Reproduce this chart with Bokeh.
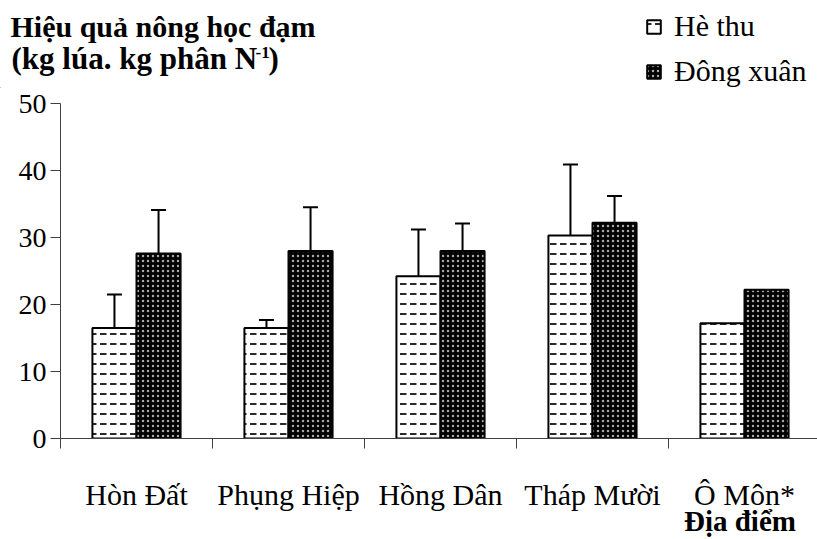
from bokeh.plotting import figure
from bokeh.layouts import column
from bokeh.models import (Range1d, FixedTicker, Label, Legend, LegendItem,
                          Whisker, TeeHead, ColumnDataSource, LinearAxis)
from bokeh.embed import file_html
from bokeh.resources import INLINE

# ---- data ----
sites = ["Hòn Đất", "Phụng Hiệp", "Hồng Dân", "Tháp Mười", "Ô Môn*"]
he_thu = [16.5, 16.5, 24.2, 30.3, 17.2]
he_thu_err = [5.0, 1.2, 7.0, 10.6, 0.0]
dong_xuan = [27.6, 28.0, 28.0, 32.2, 22.2]
dong_xuan_err = [6.5, 6.5, 4.1, 4.0, 0.0]
y_ticks = [0, 10, 20, 30, 40, 50]
series_names = ["Hè thu", "Đông xuân"]
title_line1 = "Hiệu quả nông học đạm"
title_line2 = "(kg lúa. kg phân N"
title_sup = "-1"
title_close = ")"
x_title = "Địa điểm"

FONT = "Liberation Serif"
W, HTOP, H = 817, 88, 539
HMAIN = H - HTOP
BL, BR, BT, BB = 60, 0, 103 - HTOP, 96
cat_px = 152.0
frame_w = W - BL - BR
ymax = 50.0

HT_STYLE = dict(fill_color="white", line_color="black", line_width=2,
                hatch_pattern="horizontal_dash", hatch_color="#2a2a2a",
                hatch_scale=10, hatch_weight=2)
DX_STYLE = dict(fill_color="black", line_color="black", line_width=2,
                hatch_pattern="dot", hatch_color="#a8a8a8",
                hatch_scale=5, hatch_weight=1.0)

# ---------------- header figure (title + legend) ----------------
top = figure(width=W, height=HTOP, x_range=Range1d(0, W), y_range=Range1d(0, HTOP),
             output_backend="svg", toolbar_location=None,
             x_axis_type=None, y_axis_type=None,
             min_border_left=0, min_border_right=0, min_border_top=0,
             min_border_bottom=0)
top.outline_line_color = None
top.grid.grid_line_color = None

def hdr(px, baseline, text, fs):
    # place text by its baseline, using a middle anchor
    return Label(x=px, y=HTOP - (baseline - 0.3375 * fs), text=text,
                 text_font=FONT, text_font_style="bold", text_color="black",
                 text_font_size=f"{fs}px", text_baseline="middle")

top.add_layout(hdr(10, 36, title_line1, 30))
top.add_layout(hdr(11, 68, title_line2, 31))
top.add_layout(hdr(255, 58, title_sup, 17))
top.add_layout(hdr(268, 68, title_close, 31))

# legend proxies: zero-height bars kept outside the visible range
d1 = top.vbar(x=[-W], top=[0], width=1, **HT_STYLE)
d2 = top.vbar(x=[-W], top=[0], width=1, **DX_STYLE)
legend = Legend(items=[LegendItem(label=series_names[0], renderers=[d1]),
                       LegendItem(label=series_names[1], renderers=[d2])],
                location=(645, 0), glyph_width=17, glyph_height=17,
                label_text_font=FONT, label_text_font_size="30px",
                label_text_color="black", label_standoff=12,
                label_height=33, spacing=11, padding=0, margin=0,
                background_fill_alpha=0, border_line_color=None)
top.add_layout(legend)

# ---------------- main chart ----------------
p = figure(width=W, height=HMAIN, x_range=Range1d(0, frame_w / cat_px),
           y_range=Range1d(0, ymax), output_backend="svg",
           toolbar_location=None, min_border_left=BL, min_border_right=BR,
           min_border_top=BT, min_border_bottom=BB)
p.outline_line_color = None
p.grid.grid_line_color = None

for fig in (top, p):
    try:
        fig.frame_align = False
    except Exception:
        pass

n = len(sites)
bw = 0.29
x_ht = [i + 0.5 - bw / 2 for i in range(n)]
x_dx = [i + 0.5 + bw / 2 for i in range(n)]

r1 = p.vbar(x=x_ht, top=he_thu, width=bw, **HT_STYLE)
r2 = p.vbar(x=x_dx, top=dong_xuan, width=bw, **DX_STYLE)

def err_source(xs, vals, errs):
    d = dict(x=[], up=[], lo=[])
    for x, v, e in zip(xs, vals, errs):
        if e > 0:
            d["x"].append(x)
            d["up"].append(v + e)
            d["lo"].append(v - e)
    return ColumnDataSource(d)

for xs, vals, errs in ((x_ht, he_thu, he_thu_err), (x_dx, dong_xuan, dong_xuan_err)):
    src = err_source(xs, vals, errs)
    w = Whisker(base="x", upper="up", lower="lo", source=src, dimension="height",
                line_color="black", line_width=2,
                upper_head=TeeHead(size=15, line_width=2, line_color="black"),
                lower_head=TeeHead(size=15, line_width=2, line_color="black"))
    p.add_layout(w)

yax = p.yaxis[0]
yax.ticker = FixedTicker(ticks=y_ticks)
yax.major_tick_out = 10
yax.major_tick_in = 0
yax.minor_tick_line_color = None
yax.axis_line_color = "#404040"
yax.major_tick_line_color = "#404040"
yax.major_label_text_font = FONT
yax.major_label_text_font_size = "28px"
yax.major_label_text_color = "black"
yax.major_label_standoff = 4

xax = p.xaxis[0]
xax.ticker = FixedTicker(ticks=[i + 0.5 for i in range(n)],
                         minor_ticks=list(range(n + 1)))
xax.major_label_overrides = {i + 0.5: s for i, s in enumerate(sites)}
xax.major_tick_line_color = None
xax.minor_tick_out = 10
xax.minor_tick_in = 0
xax.minor_tick_line_color = "#404040"
xax.axis_line_color = "#404040"
xax.major_label_text_font = FONT
xax.major_label_text_font_size = "30px"
xax.major_label_text_color = "black"
xax.major_label_standoff = 29

title_pos = 4.47
xax2 = LinearAxis(ticker=FixedTicker(ticks=[title_pos]),
                  major_label_overrides={title_pos: x_title},
                  axis_line_color=None, major_tick_line_color=None,
                  minor_tick_line_color=None, major_tick_out=0, major_tick_in=0,
                  major_label_text_font=FONT, major_label_text_font_size="29px",
                  major_label_text_font_style="bold",
                  major_label_text_color="black", major_label_standoff=-9)
p.add_layout(xax2, "below")

layout = column(top, p, spacing=0)
open("out.html", "w").write(file_html(layout, INLINE))
